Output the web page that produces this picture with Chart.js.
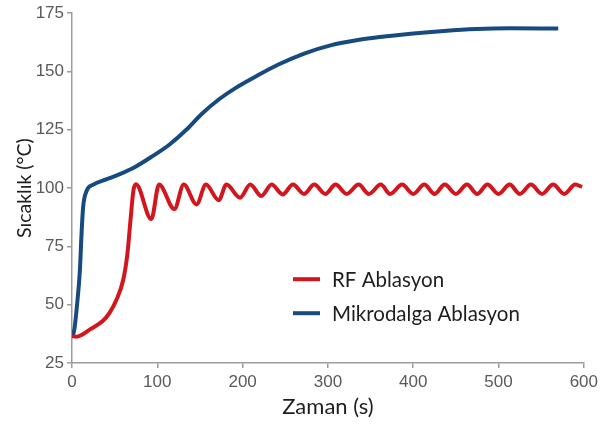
<!DOCTYPE html>
<html>
<head>
<meta charset="utf-8">
<script src="https://cdn.jsdelivr.net/npm/chart.js@4.4.1/dist/chart.umd.min.js"></script>
<style>
  html, body { margin: 0; padding: 0; background: #ffffff; }
  #wrap { width: 602px; height: 426px; }
</style>
</head>
<body>
<div id="wrap"><canvas id="chart" width="602" height="426"></canvas></div>
<script>
// Time (s) and temperature (°C) samples for each ablation method
const rfTime = [0, 5, 10, 21, 36, 44, 52, 60, 65, 69, 72, 75,
  93, 102, 120, 131, 146, 157, 172, 181, 197, 209, 222, 234, 247, 259,
  272, 284, 297, 309, 322, 336, 348, 362, 373, 387, 400, 413, 425, 437,
  450, 463, 475, 487, 500, 513, 525, 538, 551, 564, 577, 590, 598];
const rfTemp = [36.5, 36.3, 36.8, 39.4, 43, 46.5, 52, 60.6, 72, 88, 99, 101.6,
  86.7, 101.5, 91, 101.5, 93, 101.5, 94.8, 101.5, 95.9, 101.5, 96.6, 101.5, 97.3, 101.5,
  97.5, 101.5, 97.5, 101.5, 97.5, 101.5, 97.5, 101.5, 97.5, 101.5, 97.5, 101.5, 97.5, 101.5,
  97.5, 101.5, 97.5, 101.5, 97.5, 101.5, 97.5, 101.5, 97.5, 101.5, 97.5, 101.5, 100.5];

const mwTime = [1, 3, 5.4, 9.3, 11, 13, 17, 25, 40, 56, 75, 94, 114, 134, 152,
  172, 192, 215, 242, 273, 303, 335, 366, 397, 436, 474, 513, 570];
const mwTemp = [36.5, 40, 48, 65, 79, 91.7, 98.7, 101.5, 103.7, 106, 109.3, 113.6,
  118.6, 125, 131.8, 138, 143, 147.8, 153, 157.8, 161.2, 163.5, 165, 166.2,
  167.4, 168.2, 168.5, 168.4];

const seriesNames = ['RF Ablasyon', 'Mikrodalga Ablasyon'];
const xTicks = [0, 100, 200, 300, 400, 500, 600];
const yTicks = [25, 50, 75, 100, 125, 150, 175];

const toPoints = (xs, ys) => xs.map((x, i) => ({ x: x, y: ys[i] }));

const axisGrey = '#9c9c9c';
const tickFont = { family: 'Liberation Sans, Arial, sans-serif', size: 17 };

// Legend drawn inside the plot area, below the curves
const inlineLegend = {
  id: 'inlineLegend',
  afterDatasetsDraw(chart) {
    const { ctx, chartArea } = chart;
    const x0 = chartArea.left + 221;
    let y = chartArea.top + 266;
    chart.data.datasets.forEach(ds => {
      ctx.save();
      ctx.strokeStyle = ds.borderColor;
      ctx.lineWidth = 4;
      ctx.lineCap = 'butt';
      ctx.beginPath();
      ctx.moveTo(x0, y);
      ctx.lineTo(x0 + 27, y);
      ctx.stroke();
      ctx.fillStyle = '#1e1e1e';
      ctx.font = '20.5px Lato, sans-serif';
      ctx.textBaseline = 'middle';
      ctx.textAlign = 'left';
      ctx.fillText(ds.label, x0 + 39, y + 1);
      ctx.restore();
      y += 34;
    });
  }
};

new Chart(document.getElementById('chart'), {
  type: 'line',
  data: {
    datasets: [
      {
        label: seriesNames[0],
        data: toPoints(rfTime, rfTemp),
        borderColor: '#d3161e',
        borderWidth: 4,
        pointRadius: 0,
        cubicInterpolationMode: 'monotone',
        fill: false
      },
      {
        label: seriesNames[1],
        data: toPoints(mwTime, mwTemp),
        borderColor: '#174a7e',
        borderWidth: 4,
        pointRadius: 0,
        cubicInterpolationMode: 'monotone',
        fill: false
      }
    ]
  },
  options: {
    responsive: false,
    animation: false,
    layout: { padding: { left: 0, top: 10, right: 14, bottom: 0 } },
    plugins: {
      legend: { display: false },
      tooltip: { enabled: false }
    },
    scales: {
      x: {
        type: 'linear',
        min: 0,
        max: 600,
        afterBuildTicks(scale) { scale.ticks = xTicks.map(v => ({ value: v })); },
        afterFit(scale) { scale.height = 63; },
        ticks: { color: '#5a5a5a', font: tickFont, padding: 4, maxRotation: 0 },
        grid: { drawOnChartArea: false, drawTicks: true, tickLength: 5, color: axisGrey, lineWidth: 1.5 },
        border: { color: axisGrey, width: 1.5 },
        title: { display: true, text: 'Zaman (s)', color: '#1e1e1e', font: { family: 'Lato, sans-serif', size: 22 }, padding: { top: 0, bottom: 6 } }
      },
      y: {
        type: 'linear',
        min: 25,
        max: 175,
        afterBuildTicks(scale) { scale.ticks = yTicks.map(v => ({ value: v })); },
        afterFit(scale) { scale.width = 72; },
        ticks: { color: '#5a5a5a', font: tickFont, padding: 3 },
        grid: { drawOnChartArea: false, drawTicks: true, tickLength: 5, color: axisGrey, lineWidth: 1.5 },
        border: { color: axisGrey, width: 1.5 },
        title: { display: true, text: 'Sıcaklık (°C)', color: '#1e1e1e', font: { family: 'Lato, sans-serif', size: 19.5 }, padding: { top: 13, bottom: 0 } }
      }
    }
  },
  plugins: [inlineLegend]
});
</script>
</body>
</html>
